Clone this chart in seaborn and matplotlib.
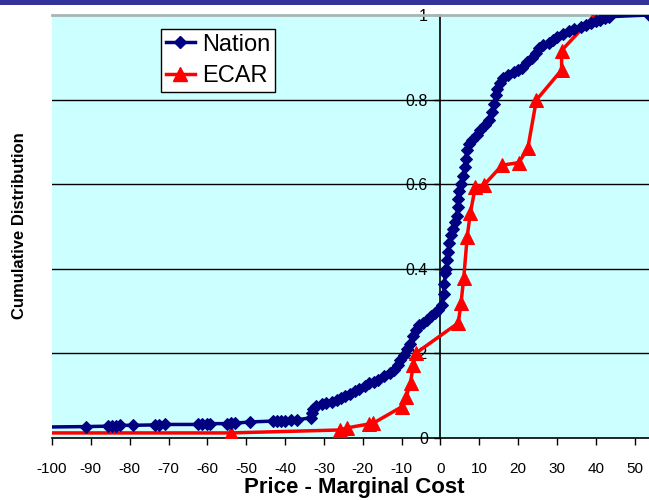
import matplotlib
matplotlib.use("Agg")
import matplotlib.pyplot as plt
import seaborn as sns
import pandas as pd
from matplotlib.patches import Rectangle
from matplotlib.lines import Line2D

plt.rcParams['font.family'] = ['Liberation Sans', 'DejaVu Sans']

# ---- data ----
nation_x = [-101, -91.2, -85.5, -84.5, -83.5, -82.5, -79.2, -73.5, -72.5, -71.0,
            -62.5, -61.5, -60.0, -59.3, -55.0, -54.0, -53.0, -49.0, -43.0, -42.0,
            -41.0, -40.0, -38.5, -37.0, -33.2, -33.0, -32.8, -32.0, -30.5, -29.5,
            -28.0, -26.5, -25.5, -24.5, -23.2, -22.0, -21.0, -19.5, -18.5, -17.2,
            -16.0, -14.5, -13.0, -12.0, -11.0, -10.3, -9.5, -8.6, -7.8, -7.0,
            -6.3, -5.5, -4.5, -3.5, -2.5, -1.5, -0.5, 0.3, 0.8, 1.0,
            1.3, 1.5, 1.8, 2.0, 2.2, 2.8, 3.3, 3.8, 4.2, 4.4,
            4.6, 4.9, 5.3, 5.8, 6.2, 6.5, 6.8, 7.3, 8.2, 9.3,
            10.3, 11.5, 12.5, 13.3, 13.8, 14.2, 14.6, 15.3, 16.2, 17.5,
            18.9, 20.0, 21.0, 22.3, 23.6, 24.5, 25.3, 26.5, 27.9, 29.0,
            30.1, 31.5, 33.1, 34.5, 36.1, 37.5, 38.7, 40.0, 41.2, 42.4,
            43.4, 53.6]
nation_y = [0.026, 0.027, 0.028, 0.029, 0.029, 0.030, 0.030, 0.031, 0.031, 0.032,
            0.032, 0.033, 0.033, 0.034, 0.034, 0.035, 0.035, 0.038, 0.040, 0.040,
            0.041, 0.041, 0.042, 0.043, 0.048, 0.060, 0.068, 0.076, 0.080, 0.083,
            0.086, 0.090, 0.094, 0.099, 0.105, 0.110, 0.115, 0.124, 0.130, 0.133,
            0.138, 0.146, 0.154, 0.160, 0.172, 0.184, 0.197, 0.210, 0.222, 0.240,
            0.255, 0.266, 0.272, 0.280, 0.288, 0.295, 0.303, 0.315, 0.340, 0.365,
            0.390, 0.400, 0.420, 0.440, 0.460, 0.480, 0.495, 0.510, 0.525, 0.545,
            0.565, 0.585, 0.600, 0.620, 0.640, 0.660, 0.680, 0.695, 0.705, 0.717,
            0.728, 0.740, 0.752, 0.770, 0.790, 0.810, 0.825, 0.840, 0.850, 0.858,
            0.866, 0.870, 0.875, 0.888, 0.898, 0.910, 0.921, 0.928, 0.934, 0.942,
            0.949, 0.955, 0.961, 0.966, 0.972, 0.977, 0.981, 0.985, 0.988, 0.992,
            0.996, 1.000]

ecar_x = [-101, -54.0, -25.8, -24.0, -18.5, -17.3, -9.9, -8.8, -7.7, -7.0,
          -6.4, 4.6, 5.3, 6.0, 6.9, 7.7, 9.0, 11.2, 15.9, 20.2,
          22.5, 24.7, 31.2, 31.2, 39.7, 60.0]
ecar_y = [0.012, 0.012, 0.019, 0.024, 0.033, 0.035, 0.074, 0.098, 0.130, 0.173,
          0.200, 0.272, 0.319, 0.378, 0.476, 0.532, 0.594, 0.598, 0.645, 0.651,
          0.685, 0.799, 0.870, 0.916, 1.000, 1.000]

series_names = ["Nation", "ECAR"]
x_ticks = list(range(-100, 51, 10))
y_ticks = [0, 0.2, 0.4, 0.6, 0.8, 1]
y_tick_labels = ["0", "0.2", "0.4", "0.6", "0.8", "1"]

NAVY, RED = "#000080", "#FF0000"

W, H = 649, 500
fig = plt.figure(figsize=(W / 100, H / 100), dpi=100)
fig.patch.set_facecolor("white")
ax = fig.add_axes([52 / W, (H - 438) / H, (W - 52) / W, (438 - 15) / H])
ax.set_facecolor("#CCFFFF")

df_n = pd.DataFrame({"x": nation_x, "y": nation_y})
df_e = pd.DataFrame({"x": ecar_x, "y": ecar_y})

sns.lineplot(data=df_n, x="x", y="y", ax=ax, sort=False, estimator=None,
             color=NAVY, linewidth=2.5, marker="D", markersize=6.5,
             markeredgecolor=NAVY, markevery=list(range(1, len(nation_x))),
             zorder=4, legend=False)
sns.lineplot(data=df_e, x="x", y="y", ax=ax, sort=False, estimator=None,
             color=RED, linewidth=2.5, marker="^", markersize=9.5,
             markeredgecolor=RED, markevery=list(range(1, len(ecar_x) - 1)),
             zorder=3, legend=False)

ax.set_xlim(-100, 53.7)
ax.set_ylim(0, 1)

for yv in y_ticks[1:-1]:
    ax.axhline(yv, color="black", linewidth=1, zorder=1)

ax.spines["right"].set_visible(False)
ax.spines["top"].set_color("#A8B4B4")
ax.spines["top"].set_linewidth(2)
ax.spines["left"].set_position(("data", 0))
ax.spines["left"].set_color("black")
ax.spines["left"].set_linewidth(1.2)
ax.spines["bottom"].set_color("black")
ax.spines["bottom"].set_linewidth(1.2)

ax.set_xticks(x_ticks)
ax.set_xticklabels([str(v) for v in x_ticks])
ax.set_yticks(y_ticks)
ax.set_yticklabels(y_tick_labels)
ax.tick_params(axis="x", direction="out", length=5, width=1, pad=12, labelsize=11)
ax.tick_params(axis="y", direction="out", length=4, width=1, pad=5, labelsize=11.5)

ax.set_xlabel("")
ax.set_ylabel("")
fig.text(354 / W, 1 - 487 / H, "Price - Marginal Cost", ha="center", va="center",
         fontsize=16, fontweight="bold")
fig.text(20 / W, 1 - 226 / H, "Cumulative Distribution", ha="center", va="center",
         rotation=90, fontsize=12, fontweight="bold")

handles = [
    Line2D([], [], color=NAVY, linewidth=2.5, marker="D", markersize=6.5),
    Line2D([], [], color=RED, linewidth=2.5, marker="^", markersize=9.5),
]
leg = ax.legend(handles, series_names, loc="upper left",
                bbox_to_anchor=(161 / W, 1 - 29 / H),
                bbox_transform=fig.transFigure, fontsize=17, frameon=True,
                fancybox=False, edgecolor="black", framealpha=1, numpoints=1,
                handlelength=1.25, handletextpad=0.3, borderpad=0.2,
                labelspacing=0.4, borderaxespad=0)
leg.get_frame().set_linewidth(1)

fig.patches.append(Rectangle((0, 1 - 5 / H), 1, 5 / H, transform=fig.transFigure,
                             facecolor="#333399", edgecolor="none"))

fig.savefig("out.png", dpi=100)
